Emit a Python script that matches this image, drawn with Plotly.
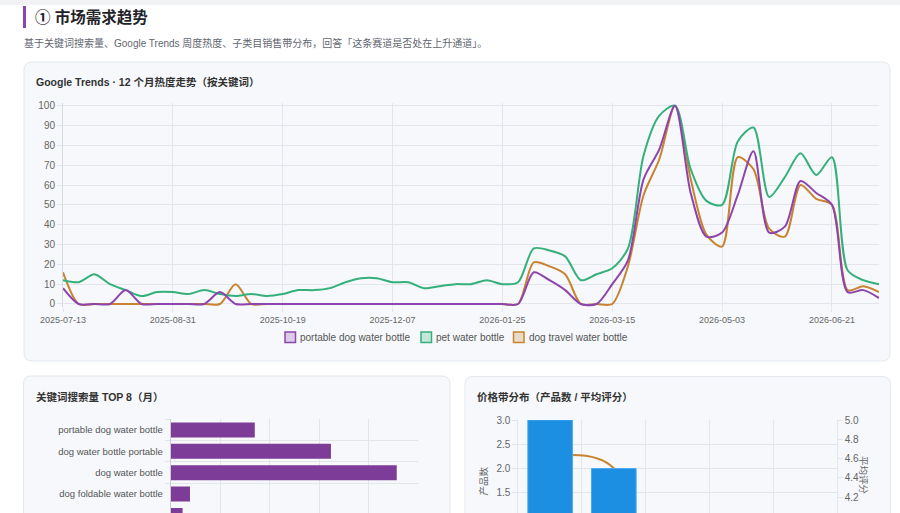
import pandas as pd
import plotly.graph_objects as go

W, H = 900, 513

# weekly Google Trends (index 0-100), 2025-07-13 .. 2026-07-12
weeks = pd.date_range("2025-07-13", periods=53, freq="7D")
portable = [8, 0, 0, 0, 7, 0, 0, 0, 0, 0, 6, 0, 0, 0, 0, 0, 0, 0, 0, 0,
            0, 0, 0, 0, 0, 0, 0, 0, 0, 0, 16, 12, 7, 0, 0, 10, 22, 63, 78, 100,
            56, 34, 36, 55, 77, 36, 39, 62, 56, 50, 6, 7, 3]
pet = [12, 11, 15, 10, 7, 4, 6, 6, 5, 7, 5, 4, 5, 4, 5, 7, 7, 8, 11, 13,
       13, 11, 11, 8, 9, 10, 10, 12, 10, 11, 28, 27, 24, 12, 15, 18, 28, 75, 95, 100,
       68, 52, 50, 82, 89, 54, 64, 76, 65, 74, 17, 12, 10]
travel = [16, 0, 0, 0, 0, 0, 0, 0, 0, 0, 0, 10, 0, 0, 0, 0, 0, 0, 0, 0,
          0, 0, 0, 0, 0, 0, 0, 0, 0, 0, 21, 19, 15, 0, 0, 0, 19, 55, 73, 100,
          63, 35, 29, 74, 68, 38, 34, 60, 53, 50, 7, 9, 6]
series_names = ["portable dog water bottle", "pet water bottle", "dog travel water bottle"]
series_colors = ["#8e44ad", "#35b07b", "#c9832e"]

# keyword monthly search volume, top 8
kw_names = ["portable dog water bottle", "dog water bottle portable", "dog water bottle",
            "dog foldable water bottle", "dog water bottle for travel", "pet travel water bottle",
            "dog water dispenser bottle", "leak proof dog water bottle"]
kw_volume = [1700, 3240, 4570, 390, 240, 180, 140, 110]

# price bands: product count / average rating
price_bands = ["$0-10", "$10-20", "$20-30", "$30-40", "$40+"]
price_count = [3, 2, 0, 0, 0]
price_rating = [4.62, 4.5, 0, 0, 0]

GRID = "#e2e6eb"
FONT = "Liberation Sans, Noto Sans CJK SC, sans-serif"


def px(x):
    return x / W


def py(y):
    return 1 - y / H


def card(x0, y0, x1, y1, r=8):
    pts = [("M", x0 + r, y0), ("L", x1 - r, y0), ("Q", x1, y0, x1, y0 + r),
           ("L", x1, y1 - r), ("Q", x1, y1, x1 - r, y1), ("L", x0 + r, y1),
           ("Q", x0, y1, x0, y1 - r), ("L", x0, y0 + r), ("Q", x0, y0, x0 + r, y0)]
    path = ""
    for p in pts:
        coords = p[1:]
        s = " ".join("%.5f,%.5f" % (px(coords[i]), py(coords[i + 1])) for i in range(0, len(coords), 2))
        path += p[0] + " " + s + " "
    return dict(type="path", xref="paper", yref="paper", path=path + "Z",
                fillcolor="#f6f8fb", line=dict(color="#e3e8ee", width=1), layer="below")


fig = go.Figure()

# trends lines (first keyword drawn last, on top)
for name, vals, color in reversed(list(zip(series_names, [portable, pet, travel], series_colors))):
    fig.add_trace(go.Scatter(x=weeks, y=vals, mode="lines", name=name, showlegend=False,
                             line=dict(color=color, width=2, shape="spline", smoothing=0.8),
                             xaxis="x", yaxis="y"))

# keyword bars
fig.add_trace(go.Bar(x=kw_volume, y=kw_names, orientation="h", width=0.7,
                     marker=dict(color="#7d3c98"), showlegend=False, xaxis="x2", yaxis="y2"))

# price band: rating line behind count bars
fig.add_trace(go.Scatter(x=price_bands, y=price_rating, mode="lines", showlegend=False,
                         line=dict(color="#c9832e", width=2, shape="spline", smoothing=1),
                         xaxis="x3", yaxis="y3"))
fig.add_trace(go.Bar(x=price_bands, y=price_count, width=0.7, showlegend=False,
                     marker=dict(color="#1c8fe2", line=dict(color="#47a9f0", width=1)),
                     xaxis="x3", yaxis="y4"))

tick_font = dict(size=10, color="#666")
ypx0 = 304 + 1.5 * 1.983
ypx1 = 105.7 - 1.5 * 1.983

fig.update_layout(
    width=W, height=H, template="none",
    margin=dict(l=0, r=0, t=0, b=0),
    paper_bgcolor="white", plot_bgcolor="rgba(0,0,0,0)",
    font=dict(family=FONT, color="#555"),
    showlegend=False, bargap=0.3,
    xaxis=dict(domain=[px(63), px(879)], anchor="y", type="date",
               range=[weeks[0], weeks[-1]], tickvals=list(weeks[::7]),
               ticktext=[d.strftime("%Y-%m-%d") for d in weeks[::7]],
               showgrid=True, gridcolor=GRID, ticks="outside", ticklen=4, tickcolor=GRID,
               tickfont=dict(size=9, color="#666"), zeroline=False, automargin=False),
    yaxis=dict(domain=[py(ypx0), py(ypx1)], anchor="x", range=[-1.5, 101.5],
               tickvals=list(range(0, 101, 10)), showgrid=True, gridcolor=GRID,
               ticks="outside", ticklen=5, tickcolor=GRID, tickfont=tick_font,
               zeroline=False, showline=True, linecolor="#d5dae0", automargin=False),
    xaxis2=dict(domain=[px(170.7), px(418)], anchor="y2", range=[0, 5000], dtick=1000,
                showgrid=True, gridcolor=GRID, showticklabels=False, zeroline=False,
                automargin=False),
    yaxis2=dict(domain=[0, py(419.3)], anchor="x2", type="category",
                range=[3.89, -0.5], tickson="boundaries", showgrid=True, gridcolor=GRID,
                ticks="outside", ticklen=5, tickcolor=GRID, ticklabelstandoff=5,
                tickfont=dict(size=9.5, color="#555"), showline=True, linecolor="#c9ced5",
                automargin=False),
    xaxis3=dict(domain=[px(518.3), px(836.7)], anchor="y3", type="category",
                tickson="boundaries", showgrid=True, gridcolor=GRID, showticklabels=False,
                zeroline=False, automargin=False),
    yaxis3=dict(domain=[0, py(420)], anchor="x3", side="right", range=[4.036, 5.0],
                dtick=0.2, tickformat=".1f", showgrid=False, ticks="outside", ticklen=5,
                tickcolor=GRID, tickfont=tick_font, zeroline=False, showline=True,
                linecolor=GRID, automargin=False),
    yaxis4=dict(overlaying="y3", anchor="x3", side="left", range=[1.086, 3.0],
                dtick=0.5, tickformat=".1f", showgrid=True, gridcolor=GRID,
                ticks="outside", ticklen=5, tickcolor=GRID, tickfont=tick_font,
                zeroline=False, showline=True, linecolor=GRID, automargin=False),
)

shapes = [
    dict(type="rect", xref="paper", yref="paper", x0=0, x1=1, y0=py(5), y1=1,
         fillcolor="#f1f2f4", line=dict(width=0), layer="below"),
    dict(type="rect", xref="paper", yref="paper", x0=px(23), x1=px(26), y0=py(28), y1=py(6),
         fillcolor="#8e44ad", line=dict(width=0)),
    card(24, 62, 890, 361),
    card(23.5, 376, 450, 540),
    card(465, 376.5, 890.5, 540),
]

annotations = [
    dict(text="<b>① 市场需求趋势</b>", x=px(33), y=py(17), font=dict(size=15.5, color="#1f2329")),
    dict(text="基于关键词搜索量、Google Trends 周度热度、子类目销售带分布，回答「这条赛道是否处在上升通道」。",
         x=px(22), y=py(42.5), font=dict(size=10, color="#5f6670")),
    dict(text="<b>Google Trends · 12 个月热度走势（按关键词）</b>", x=px(34), y=py(82),
         font=dict(size=10.5, color="#333")),
    dict(text="<b>关键词搜索量 TOP 8（月）</b>", x=px(34), y=py(397), font=dict(size=10.5, color="#333")),
    dict(text="<b>价格带分布（产品数 / 平均评分）</b>", x=px(475), y=py(397), font=dict(size=10.5, color="#333")),
]
for a in annotations:
    a.update(xref="paper", yref="paper", xanchor="left", yanchor="middle", showarrow=False)

# axis titles for the price chart
annotations.append(dict(text="产品数", x=px(483), y=py(497), xref="paper", yref="paper",
                        textangle=-90, showarrow=False, font=dict(size=9.5, color="#666")))
annotations.append(dict(text="平均评分", x=px(871), y=py(497), xref="paper", yref="paper",
                        textangle=90, showarrow=False, font=dict(size=9.5, color="#666")))

# custom legend with square boxes
legend_x = [285, 421, 513.5]
for x0, name, color in zip(legend_x, series_names, series_colors):
    shapes.append(dict(type="rect", xref="paper", yref="paper", x0=px(x0), x1=px(x0 + 10.5),
                       y0=py(342.5), y1=py(332), fillcolor=color, opacity=0.25,
                       line=dict(width=0)))
    shapes.append(dict(type="rect", xref="paper", yref="paper", x0=px(x0), x1=px(x0 + 10.5),
                       y0=py(342.5), y1=py(332), line=dict(color=color, width=1.5)))
    annotations.append(dict(text=name, x=px(x0 + 13), y=py(337.5), xref="paper", yref="paper",
                            xanchor="left", yanchor="middle", showarrow=False,
                            font=dict(size=10, color="#555")))

fig.update_layout(shapes=shapes, annotations=annotations)

# page body has an 8px default margin; drop it so the figure fills the window
fig.write_html("out.html", config={"displayModeBar": False},
               post_script="document.body.style.margin='0';")
